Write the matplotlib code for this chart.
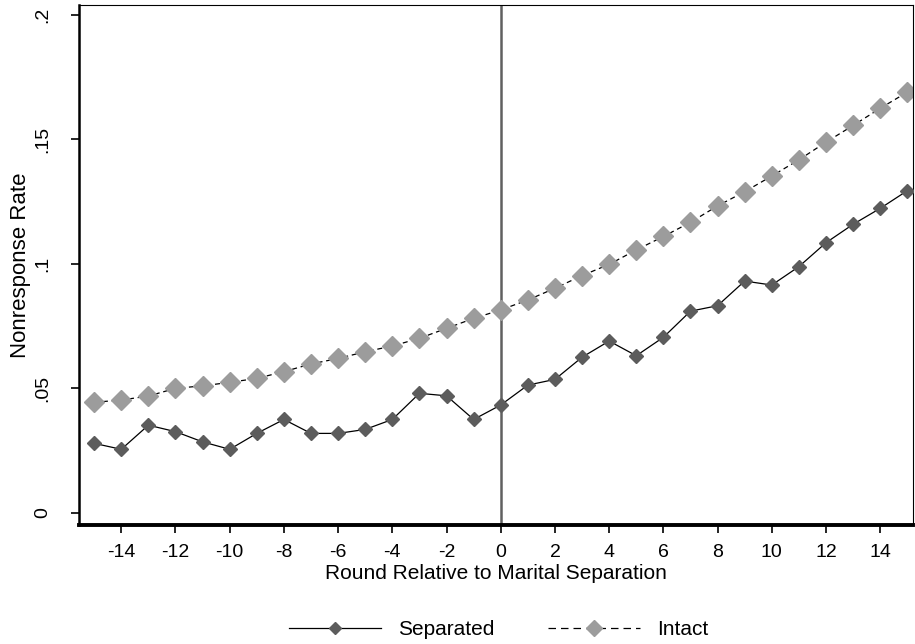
import numpy as np
import matplotlib
matplotlib.use("Agg")
from matplotlib import pyplot as plt

plt.rcParams['font.family'] = ['Liberation Sans', 'DejaVu Sans']

rounds = np.arange(-15, 16)

separated = [0.0279, 0.0255, 0.0352, 0.0326, 0.0285, 0.0255, 0.0319, 0.0375,
             0.0319, 0.0319, 0.0335, 0.0375, 0.0480, 0.0470, 0.0375, 0.0433,
             0.0513, 0.0536, 0.0625, 0.0690, 0.0631, 0.0705, 0.0810, 0.0832,
             0.0931, 0.0915, 0.0989, 0.1085, 0.1159, 0.1223, 0.1294]

intact = [0.0444, 0.0453, 0.0469, 0.0500, 0.0510, 0.0524, 0.0540, 0.0567,
          0.0598, 0.0620, 0.0647, 0.0670, 0.0701, 0.0741, 0.0781, 0.0815,
          0.0855, 0.0902, 0.0953, 0.0998, 0.1056, 0.1110, 0.1167, 0.1233,
          0.1290, 0.1353, 0.1418, 0.1489, 0.1556, 0.1625, 0.1690]

xticks = np.arange(-14, 15, 2)
yticks = [0, 0.05, 0.1, 0.15, 0.2]
ylabels = ["0", ".05", ".1", ".15", ".2"]

fig = plt.figure(figsize=(9.15, 6.44), dpi=100)
ax = fig.add_axes([79/915, 119/644, 834/915, 520/644])

ax.axvline(0, color="#606060", lw=1.8, zorder=1)
ax.plot(rounds, separated, color="black", lw=0.9, marker="D", ms=7,
        mfc="#5c5c5c", mec="#5c5c5c", label="Separated", zorder=3)
ax.plot(rounds, intact, color="black", lw=0.9, ls=(0, (4, 3)), marker="D", ms=10,
        mfc="#9c9c9c", mec="#9c9c9c", label="Intact", zorder=2)

ax.set_xlim(-15.56, 15.21)
ax.set_ylim(-0.0049, 0.204)
ax.set_xticks(xticks)
ax.set_xticklabels([str(t) for t in xticks], fontsize=14)
ax.set_yticks(yticks)
ax.set_yticklabels(ylabels, fontsize=14, rotation=90, va="center")
ax.tick_params(direction="out", length=6, width=1.2, colors="black")
ax.tick_params(axis="x", pad=8)
ax.tick_params(axis="y", pad=14)

for side in ["top", "right"]:
    ax.spines[side].set_linewidth(0.8)
ax.spines["left"].set_linewidth(1.8)
ax.spines["bottom"].set_linewidth(2.8)

ax.set_xlabel("Round Relative to Marital Separation", fontsize=15, labelpad=2)
ax.set_ylabel("Nonresponse Rate", fontsize=16, labelpad=2)

leg = fig.legend(loc="lower center", bbox_to_anchor=(0.545, -0.022), ncol=2,
                 frameon=False, fontsize=15, handlelength=4.4, columnspacing=2.6)
leg_lines = leg.get_lines()
leg_lines[0].set_markersize(6)
leg_lines[1].set_markersize(8)
leg_lines[1].set_dashes([6, 4])

fig.savefig("out.png", dpi=100)
